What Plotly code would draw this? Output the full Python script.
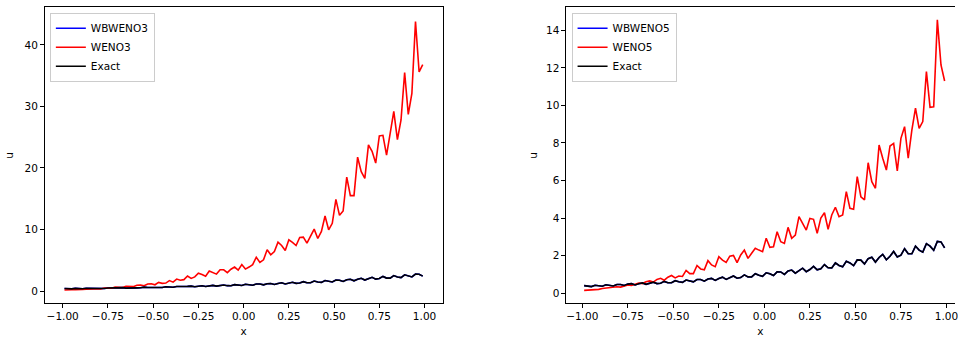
import plotly.graph_objects as go

# grid (cell centres)
x = [round(-0.99 + 0.02 * i, 2) for i in range(100)]

weno3 = [
    0.18, 0.15, 0.20, 0.22, 0.20, 0.27, 0.29, 0.26, 0.35, 0.38,
    0.34, 0.48, 0.52, 0.46, 0.63, 0.66, 0.58, 0.78, 0.80, 0.72,
    0.95, 0.98, 0.86, 1.15, 1.18, 1.02, 1.40, 1.25, 1.30, 1.70,
    1.45, 1.95, 1.75, 1.85, 2.45, 2.05, 2.30, 2.90, 2.70, 2.40,
    3.25, 2.95, 2.75, 3.45, 3.45, 3.00, 3.55, 3.90, 3.40, 4.30,
    3.57, 3.90, 4.30, 5.50, 4.65, 5.08, 6.70, 5.90, 6.43, 7.95,
    7.40, 6.60, 8.33, 7.90, 7.40, 8.70, 8.76, 7.80, 8.90, 10.06,
    8.54, 9.68, 12.2, 9.95, 11.0, 14.9, 12.3, 13.0, 18.5, 15.5,
    15.5, 21.75, 19.4, 18.3, 23.75, 22.7, 20.8, 25.2, 25.3, 22.1,
    25.6, 29.2, 24.6, 27.8, 35.5, 28.7, 32.1, 43.8, 35.6, 36.8,
]

weno5 = [
    0.16, 0.17, 0.20, 0.22, 0.21, 0.26, 0.28, 0.27, 0.32, 0.35,
    0.33, 0.40, 0.44, 0.42, 0.50, 0.55, 0.52, 0.62, 0.66, 0.60,
    0.74, 0.80, 0.70, 0.86, 0.95, 0.82, 0.92, 0.90, 1.22, 1.05,
    1.05, 1.48, 1.30, 1.25, 1.74, 1.51, 1.42, 1.95, 1.77, 1.65,
    1.98, 2.02, 1.63, 2.04, 2.30, 1.86, 2.13, 2.40, 2.30, 2.22,
    2.93, 2.45, 2.48, 3.28, 2.75, 2.66, 3.51, 2.93, 3.10, 4.08,
    3.72, 3.37, 3.99, 3.94, 3.19, 4.00, 4.29, 3.41, 4.17, 4.58,
    4.08, 4.17, 5.41, 4.52, 4.47, 6.21, 5.14, 4.97, 6.95, 5.94,
    5.59, 7.89, 7.19, 6.56, 7.84, 7.98, 6.51, 8.25, 8.87, 7.19,
    8.69, 9.85, 8.78, 9.14, 11.8, 9.90, 9.93, 14.55, 12.15, 11.3,
]

exact = [
    0.409, 0.365, 0.360, 0.432, 0.398, 0.375, 0.453, 0.435, 0.394, 0.473,
    0.474, 0.417, 0.491, 0.515, 0.445, 0.507, 0.555, 0.479, 0.524, 0.596,
    0.519, 0.541, 0.635, 0.565, 0.560, 0.671, 0.617, 0.583, 0.705, 0.674,
    0.612, 0.735, 0.735, 0.647, 0.763, 0.798, 0.690, 0.789, 0.862, 0.743,
    0.815, 0.925, 0.805, 0.841, 0.985, 0.876, 0.871, 1.042, 0.957, 0.907,
    1.095, 1.045, 0.950, 1.143, 1.139, 1.005, 1.187, 1.237, 1.071, 1.227,
    1.337, 1.152, 1.267, 1.435, 1.248, 1.308, 1.530, 1.358, 1.354, 1.619,
    1.483, 1.409, 1.702, 1.620, 1.477, 1.777, 1.766, 1.560, 1.845, 1.919,
    1.663, 1.909, 2.074, 1.787, 1.971, 2.227, 1.935, 2.035, 2.376, 2.106,
    2.106, 2.515, 2.298, 2.191, 2.645, 2.511, 2.294, 2.762, 2.738, 2.422,
]

# well-balanced schemes coincide with the exact solution
wbweno3 = list(exact)
wbweno5 = list(exact)

x_tickvals = [-1.0, -0.75, -0.5, -0.25, 0.0, 0.25, 0.5, 0.75, 1.0]
x_ticktext = ["\u22121.00", "\u22120.75", "\u22120.50", "\u22120.25", "0.00",
              "0.25", "0.50", "0.75", "1.00"]
y1_tickvals = [0, 10, 20, 30, 40]
y2_tickvals = [0, 2, 4, 6, 8, 10, 12, 14]

FONT = "DejaVu Sans"
FS = 10.5
LW = 1.6

fig = go.Figure()

panels = [
    (wbweno3, weno3, "WBWENO3", "WENO3", "x", "y", "legend"),
    (wbweno5, weno5, "WBWENO5", "WENO5", "x2", "y2", "legend2"),
]
for wb, we, wbname, wename, xa, ya, leg in panels:
    fig.add_trace(go.Scatter(x=x, y=wb, name=wbname, mode="lines",
                             line=dict(color="#0000ff", width=LW),
                             xaxis=xa, yaxis=ya, legend=leg))
    fig.add_trace(go.Scatter(x=x, y=we, name=wename, mode="lines",
                             line=dict(color="#ff0000", width=LW),
                             xaxis=xa, yaxis=ya, legend=leg))
    fig.add_trace(go.Scatter(x=x, y=exact, name="Exact", mode="lines",
                             line=dict(color="#000000", width=LW),
                             xaxis=xa, yaxis=ya, legend=leg))

axis_common = dict(
    showgrid=False, zeroline=False, showline=True, linecolor="black",
    linewidth=0.8, ticks="outside", ticklen=3.6, tickwidth=0.8,
    tickcolor="black", tickfont=dict(family=FONT, size=FS, color="black"),
    ticklabeloverflow="allow",
)
ydom = [0.1, 0.9783]

legend_common = dict(
    xanchor="left", yanchor="top", bgcolor="rgba(255,255,255,0.8)",
    bordercolor="#cccccc", borderwidth=1,
    font=dict(family=FONT, size=FS, color="black"),
    tracegroupgap=0,
)

fig.update_layout(
    width=958, height=337,
    margin=dict(l=0, r=0, t=0, b=0),
    paper_bgcolor="white", plot_bgcolor="white",
    font=dict(family=FONT, size=FS, color="black"),
    xaxis=dict(domain=[0.0467, 0.4635], range=[-1.1, 1.1], anchor="y",
               tickvals=x_tickvals, ticktext=x_ticktext, mirror=True,
               title=dict(text="x", standoff=6,
                          font=dict(family=FONT, size=FS)),
               **axis_common),
    yaxis=dict(domain=ydom, range=[-1.99, 46.1], anchor="x",
               tickvals=y1_tickvals, mirror=True,
               title=dict(text="u", standoff=8,
                          font=dict(family=FONT, size=FS)),
               **axis_common),
    xaxis2=dict(domain=[0.5926, 1.0], range=[-1.09, 1.047], anchor="y2",
                tickvals=x_tickvals, ticktext=x_ticktext, mirror=True,
                title=dict(text="x", standoff=6,
                           font=dict(family=FONT, size=FS)),
                **axis_common),
    yaxis2=dict(domain=ydom, range=[-0.53, 15.22], anchor="x2",
                tickvals=y2_tickvals, mirror=False,
                title=dict(text="u", standoff=6,
                           font=dict(family=FONT, size=FS)),
                **axis_common),
    legend=dict(x=0.0522, y=0.9623, **legend_common),
    legend2=dict(x=0.5985, y=0.9623, **legend_common),
    showlegend=True,
)

fig.write_html("out.html")
